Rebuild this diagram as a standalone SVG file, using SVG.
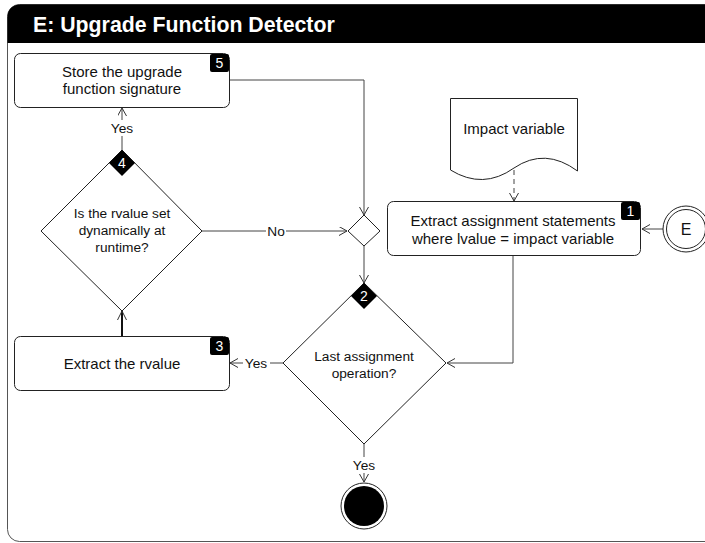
<svg xmlns="http://www.w3.org/2000/svg" width="705" height="543" viewBox="0 0 705 543">
<defs>
<marker id="arr" markerWidth="10" markerHeight="10" refX="8" refY="4.5" orient="auto" markerUnits="userSpaceOnUse">
<path d="M0,0 L8,4.5 L0,9" fill="none" stroke="#333" stroke-width="1"/>
</marker>
</defs>
<style>
text{font-family:"Liberation Sans",Arial,sans-serif;fill:#111;}
.t{font-size:15px;text-anchor:middle;}
.s{font-size:13.7px;text-anchor:middle;}
.box{fill:#fff;stroke:#222;stroke-width:1;}
.badge{fill:#000;}
.bt{font-size:14px;fill:#fff;text-anchor:middle;}
.c{fill:none;stroke:#444;stroke-width:1;}
.lbl{fill:#fff;}
</style>
<rect x="0" y="0" width="705" height="543" fill="#fff"/>
<g id="frame">
<rect x="7.5" y="4.5" width="720" height="537" rx="12" fill="#fff" stroke="#555" stroke-width="1"/>
<path d="M7.5,43 V16.5 A12,12 0 0 1 19.5,4.5 H705 V43 Z" fill="#000"/>
<text x="33" y="32" style="font-size:21.3px;font-weight:bold;fill:#fff;">E: Upgrade Function Detector</text>
</g>
<g id="connectors">
<polyline class="c" points="229,80 364,80 364,215" marker-end="url(#arr)"/>
<line class="c" x1="202" y1="231" x2="347" y2="231" marker-end="url(#arr)"/>
<rect class="lbl" x="266" y="223" width="20" height="16"/>
<text x="276" y="236" class="s">No</text>
<line class="c" x1="122" y1="150" x2="122" y2="108" marker-end="url(#arr)"/>
<rect class="lbl" x="108" y="120" width="28" height="16"/>
<text x="122" y="133" class="s">Yes</text>
<line x1="122" y1="336" x2="122" y2="311" stroke="#111" stroke-width="2"/>
<path d="M117.5,320 L122,311 L126.5,320" fill="none" stroke="#333" stroke-width="1"/>
<line class="c" x1="364" y1="246" x2="364" y2="283" marker-end="url(#arr)"/>
<line class="c" x1="283" y1="363" x2="230" y2="363" marker-end="url(#arr)"/>
<rect class="lbl" x="243" y="355" width="27" height="16"/>
<text x="256" y="368" class="s">Yes</text>
<polyline class="c" points="513,255 513,363 447,363" marker-end="url(#arr)"/>
<line class="c" x1="514" y1="170" x2="514" y2="201" stroke-dasharray="5,4" marker-end="url(#arr)"/>
<line class="c" x1="663" y1="229" x2="642" y2="229" marker-end="url(#arr)"/>
<line class="c" x1="364" y1="444" x2="364" y2="482" marker-end="url(#arr)"/>
<rect class="lbl" x="350" y="457" width="28" height="16"/>
<text x="364" y="470" class="s">Yes</text>
</g>
<g id="node5">
<rect class="box" x="14.5" y="53.5" width="215" height="54" rx="6"/>
<text x="122" y="77" class="t">Store the upgrade</text>
<text x="122" y="94" class="t">function signature</text>
<rect class="badge" x="210" y="54" width="19" height="18" rx="2"/>
<text x="219.5" y="68" class="bt">5</text>
</g>
<g id="decision4">
<polygon class="box" points="122,150 202,231 122,311 41,231"/>
<polygon class="badge" points="122,150 135,163 122,176 109,163"/>
<text x="122" y="168" class="bt">4</text>
<text x="122" y="218" class="s">Is the rvalue set</text>
<text x="122" y="235" class="s">dynamically at</text>
<text x="122" y="252" class="s">runtime?</text>
</g>
<g id="merge">
<polygon class="box" points="364,215 380,231 364,246 348,231"/>
</g>
<g id="node3">
<rect class="box" x="14.5" y="336.5" width="215" height="54" rx="6"/>
<text x="122" y="369" class="t">Extract the rvalue</text>
<rect class="badge" x="210" y="337" width="19" height="18" rx="2"/>
<text x="219.5" y="351" class="bt">3</text>
</g>
<g id="decision2">
<polygon class="box" points="364,283 446,363 364,444 283,363"/>
<polygon class="badge" points="364,283 377,296 364,309 351,296"/>
<text x="364" y="301" class="bt">2</text>
<text x="364" y="361" class="s">Last assignment</text>
<text x="364" y="378" class="s">operation?</text>
</g>
<g id="node1">
<rect class="box" x="387.5" y="201.5" width="253" height="54" rx="6"/>
<text x="513" y="226" class="t">Extract assignment statements</text>
<text x="513" y="244" class="t">where lvalue = impact variable</text>
<rect class="badge" x="621" y="202" width="19" height="18" rx="2"/>
<text x="630.5" y="216" class="bt">1</text>
</g>
<g id="impact">
<path class="box" d="M450.5,98.5 H577.5 V171 Q545,147 514,168 Q483,190 450.5,170 Z"/>
<text x="514" y="134" class="t">Impact variable</text>
</g>
<g id="startE">
<circle cx="686" cy="229" r="23" fill="#fff" stroke="#222"/>
<circle cx="686" cy="229" r="19.5" fill="#fff" stroke="#222"/>
<text x="686" y="235" class="t" style="font-size:16px">E</text>
</g>
<g id="end">
<circle cx="364" cy="506" r="23" fill="#fff" stroke="#222"/>
<circle cx="364" cy="506" r="20" fill="#000"/>
</g>
</svg>
